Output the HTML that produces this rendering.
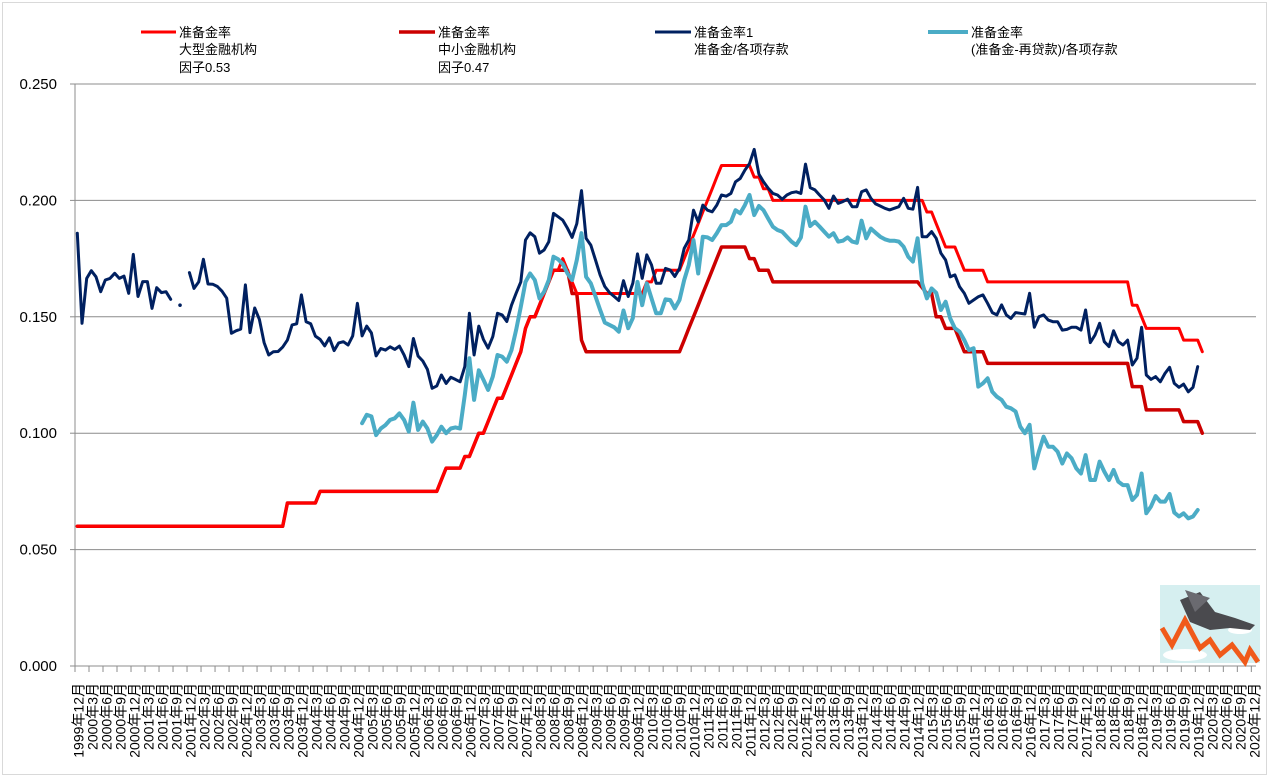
<!DOCTYPE html>
<html><head><meta charset="utf-8"><style>
html,body{margin:0;padding:0;background:#fff;}
svg{display:block;font-family:"Liberation Sans","Noto Sans CJK SC",sans-serif;}
</style></head><body>
<svg id="chart" width="1270" height="778" viewBox="0 0 1270 778" xmlns="http://www.w3.org/2000/svg">
<rect x="2.5" y="2.5" width="1264" height="772" fill="#fff" stroke="#d9d9d9"/>
<g id="grid"></g>
<g id="yaxis"></g>
<g id="xaxis"></g>
<g id="series"></g>
<g id="legend">
  <g>
    <line x1="141" y1="32" x2="176" y2="32" stroke="#ff0000" stroke-width="3"/>
    <text x="179" y="37" font-size="13">准备金率</text>
    <text x="179" y="54" font-size="13">大型金融机构</text>
    <text x="179" y="72" font-size="13">因子0.53</text>
  </g>
  <g>
    <line x1="399" y1="32" x2="435" y2="32" stroke="#cc0000" stroke-width="3.5"/>
    <text x="438" y="37" font-size="13">准备金率</text>
    <text x="438" y="54" font-size="13">中小金融机构</text>
    <text x="438" y="72" font-size="13">因子0.47</text>
  </g>
  <g>
    <line x1="655" y1="32" x2="691" y2="32" stroke="#002060" stroke-width="3"/>
    <text x="694" y="37" font-size="13">准备金率1</text>
    <text x="694" y="54" font-size="13">准备金/各项存款</text>
  </g>
  <g>
    <line x1="928" y1="32" x2="968" y2="32" stroke="#4bacc6" stroke-width="4"/>
    <text x="971" y="37" font-size="13">准备金率</text>
    <text x="971" y="54" font-size="13">(准备金-再贷款)/各项存款</text>
  </g>
</g>
<g>
  <rect x="1160" y="585" width="100" height="78" fill="#d6eff0"/>
  <ellipse cx="1185" cy="655" rx="22" ry="6" fill="#fff"/>
  <ellipse cx="1240" cy="630" rx="12" ry="4" fill="#fff"/>
  <polyline points="1162,628 1172,645 1185,620 1200,648 1210,640 1220,655 1232,645 1245,662 1250,650 1258,662" fill="none" stroke="#f05a1a" stroke-width="5"/>
  <path d="M1180,600 L1200,592 L1215,612 L1235,618 L1255,625 L1250,630 L1230,628 L1210,630 L1190,622 Z" fill="#4a4a4e"/>
  <path d="M1195,612 L1185,590 L1210,598 Z" fill="#6a6a70"/>
</g>
</svg>
<script>
// ---- data ----
const yTicks = [0, 0.05, 0.10, 0.15, 0.20, 0.25];
const yTickLabels = ["0.000","0.050","0.100","0.150","0.200","0.250"];
const categoryCount = 253; // months 1999-12 .. 2020-12
const startYear = 1999, startMonth = 12;
// [value, months] runs
const largeRuns = [[0.06,45],[0.07,7],[0.075,26],[0.08,1],[0.085,4],[0.09,2],[0.095,1],[0.10,2],[0.105,1],[0.11,1],[0.115,2],[0.12,1],[0.125,1],[0.13,1],[0.135,1],[0.145,1],[0.15,2],[0.155,1],[0.16,1],[0.165,1],[0.17,2],[0.175,1],[0.17,1],[0.165,1],[0.16,15],[0.165,2],[0.17,6],[0.175,1],[0.18,1],[0.185,1],[0.19,1],[0.195,1],[0.20,1],[0.205,1],[0.21,1],[0.215,1],[0.215,6],[0.21,2],[0.205,2],[0.20,33],[0.195,2],[0.19,1],[0.185,1],[0.18,3],[0.175,1],[0.17,5],[0.165,31],[0.155,2],[0.15,1],[0.145,8],[0.14,4],[0.135,1]];
const smallRuns = [[0.06,45],[0.07,7],[0.075,26],[0.08,1],[0.085,4],[0.09,2],[0.095,1],[0.10,2],[0.105,1],[0.11,1],[0.115,2],[0.12,1],[0.125,1],[0.13,1],[0.135,1],[0.145,1],[0.15,2],[0.155,1],[0.16,1],[0.165,1],[0.17,4],[0.16,2],[0.14,1],[0.135,21],[0.14,1],[0.145,1],[0.15,1],[0.155,1],[0.16,1],[0.165,1],[0.17,1],[0.175,1],[0.18,1],[0.18,5],[0.175,2],[0.17,3],[0.165,32],[0.1625,1],[0.16,2],[0.15,2],[0.145,3],[0.14,1],[0.135,5],[0.13,31],[0.12,3],[0.11,8],[0.105,4],[0.10,1]];
const ratio1Values = [.1859,.1472,.1665,.1698,.1672,.1608,.1658,.1665,.1687,.1665,.1675,.1601,.1768,.1587,.1651,.1651,.1536,.1625,.1604,.1608,.1575,
null,.155,null,
.169,.1622,.165,.1747,.1641,.164,.163,.161,.158,.1429,
.144,.1447,.1637,.1432,.1538,.1489,.1389,.1336,.135,.1351,.137,
.140,.1465,.147,.1594,.1479,.147,.1417,.1403,.1375,.141,.1355,.1388,.1393,.1379,.1418,
.1558,.1418,.146,.1431,.1332,.1364,.1357,.1371,.136,.1374,.1336,.1286,.1407,.1331,.131,.1274,.1193,.1203,.125,.1214,.124,.1231,.1221,.1286,.1515,.1336,.146,.1403,.1365,
.1415,.1515,.1508,.148,.155,.1601,.165,.183,.1861,.1844,
.1773,.1787,.1822,.1944,.193,.1915,.188,.1841,.190,.2042,
.1837,.1808,.1744,.168,.163,.1604,.1587,.157,.1655,.1587,
.1644,.177,.1665,.1766,.1723,.1644,.1644,.1708,.1701,.1673,
.1708,.1794,.183,.1958,.1908,.198,.1958,.1951,.198,.2023,
.2018,.203,.208,.2094,.213,.2158,.2219,.2113,.208,.2052,
.203,.2023,.2005,.2023,.2033,.2037,.203,.2156,.2055,.2045,
.2023,.2002,.1966,.2019,.1987,.1995,.2005,.1973,.1973,.2037,
.2045,.2009,.1985,.1976,.1966,.1959,.1966,.1973,.2009,.1966,
.1962,.2056,.1844,.1844,.1866,.1837,.1773,.1744,.1672,.168,
.1629,.1601,.1558,.1572,.1586,.1594,.1558,.1518,.1508,.1551,
.1508,.1493,.1518,.1515,.1512,.1601,.1455,.15,.1508,.1486,
.1479,.1479,.1443,.1446,.1455,.1455,.1443,.1529,.1389,.1422,
.1472,.1393,.1372,.144,.1393,.1379,.14,.1293,.1322,.1455,
.125,.1231,.1243,.1221,.1257,.1283,.1214,.1197,.1211,.1178,
.1197,.1286];
const ratio2Start = 61;
const ratio2Values = [.1043,.1079,.1072,.0992,.102,.1035,.1057,.1064,.1085,.1057,.1007,.1131,.1014,.105,.102,.0964,.0992,.1028,.1,.102,.1025,.102,.1164,.1322,.1143,.127,.123,.1186,
.1243,.1336,.1329,.1307,.1357,.1443,.1543,.165,.1686,.1658,
.1579,.1608,.1658,.1758,.1747,.1727,.1686,.1658,.1744,.1859,
.1672,.1644,.1587,.153,.1475,.1465,.1455,.1436,.1527,.1451,
.1494,.165,.155,.1644,.1579,.1515,.1515,.1575,.1572,.1536,
.1572,.1658,.1723,.183,.1686,.1844,.1841,.183,.1859,.1894,
.1894,.1908,.1958,.1944,.198,.2023,.1937,.1976,.1958,.1922,
.1887,.1873,.1865,.1844,.1823,.1808,.1841,.1973,.189,.1908,
.1888,.1866,.1844,.1859,.1823,.1827,.1841,.1823,.1818,.1913,
.1837,.1879,.1861,.1844,.1833,.1827,.1827,.1823,.1801,.1758,
.1737,.1837,.1644,.1579,.1622,.1603,.1529,.1565,.1493,.1451,
.1436,.14,.1357,.1365,.12,.1214,.1236,.1178,.1157,.1143,
.1114,.1107,.1093,.1028,.1,.1036,.0849,.0921,.0985,.0942,
.0942,.0921,.087,.0913,.0892,.0849,.0827,.0906,.0799,.0799,
.0878,.0835,.0799,.0842,.0792,.0777,.0777,.0713,.0735,.0827,
.0656,.0685,.073,.0706,.0706,.0739,.0659,.0642,.0656,.0634,
.0642,.067];

// ---- scales ----
const NS = "http://www.w3.org/2000/svg";
const plotL = 75, plotR = 1256, plotTop = 84, plotBot = 666;
const xStep = (plotR - plotL) / categoryCount;
function xPos(i){ return plotL + (i + 0.5) * xStep; }
function yPos(v){ return plotBot - (v / 0.25) * (plotBot - plotTop); }
function mk(tag, attrs, parent){ const e = document.createElementNS(NS, tag); for (const k in attrs) e.setAttribute(k, attrs[k]); parent.appendChild(e); return e; }
function expand(runs){ const out = []; runs.forEach(r => { for (let k = 0; k < r[1]; k++) out.push(r[0]); }); return out; }

const grid = document.getElementById('grid'), yaxis = document.getElementById('yaxis'), xaxis = document.getElementById('xaxis'), series = document.getElementById('series');

yTicks.forEach((t, k) => {
  if (t > 0) {
    const gl = mk('line', {x1: plotL, x2: plotR, y1: yPos(t), y2: yPos(t), stroke: '#8c8c8c', 'stroke-width': 1}, grid);
    
    
  }
  const ytk = mk('line', {x1: plotL - 5, x2: plotL, y1: yPos(t), y2: yPos(t), stroke: '#8c8c8c'}, yaxis);
  
  
  const tl = mk('text', {x: 57, y: yPos(t) + 5, 'text-anchor': 'end', 'font-size': 15, fill: '#000'}, yaxis);
  tl.textContent = yTickLabels[k];
  
  
});
const yl = mk('line', {x1: plotL, x2: plotL, y1: plotTop, y2: plotBot, stroke: '#8c8c8c'}, yaxis);


const xl = mk('line', {x1: plotL, x2: plotR, y1: plotBot, y2: plotBot, stroke: '#8c8c8c'}, xaxis);



for (let i = 0; i < categoryCount; i += 3) {
  const tx = plotL + i * xStep;
  const tk = mk('line', {x1: tx, x2: tx, y1: plotBot, y2: plotBot + 6, stroke: '#8c8c8c'}, xaxis);
  
  
  const m = (startMonth - 1 + i) % 12 + 1, yr = startYear + Math.floor((startMonth - 1 + i) / 12);
  const lx = xPos(i) + 1, ly = 683;
  const lab = mk('text', {x: lx, y: ly, 'text-anchor': 'end', 'font-size': 14, transform: 'rotate(-90 ' + lx + ' ' + ly + ')', 'dominant-baseline': 'central'}, xaxis);
  lab.textContent = yr + '年' + m + '月';
  
  
}

function drawSeries(vals, start, color, width, name){
  let seg = [];
  const segs = [];
  vals.forEach((v, k) => {
    if (v === null || v === undefined) { if (seg.length) segs.push(seg); seg = []; }
    else seg.push([xPos(start + k), yPos(v)]);
  });
  if (seg.length) segs.push(seg);
  segs.forEach(s => {
    if (s.length === 1) {
      const c = mk('circle', {cx: s[0][0], cy: s[0][1], r: width * 0.6, fill: color}, series);
      
      
    } else {
      const p = mk('polyline', {points: s.map(q => q[0].toFixed(1) + ',' + q[1].toFixed(1)).join(' '), fill: 'none', stroke: color, 'stroke-width': width, 'stroke-linejoin': 'round', 'stroke-linecap': 'round'}, series);
      
      
    }
  });
}
drawSeries(expand(smallRuns), 0, '#cc0000', 3.5, 'small-institution-rrr');
drawSeries(expand(largeRuns), 0, '#ff0000', 3, 'large-institution-rrr');
drawSeries(ratio2Values, ratio2Start, '#4bacc6', 4, 'net-reserve-ratio');
drawSeries(ratio1Values, 0, '#002060', 3, 'reserve-ratio-1');
</script>
</body></html>
